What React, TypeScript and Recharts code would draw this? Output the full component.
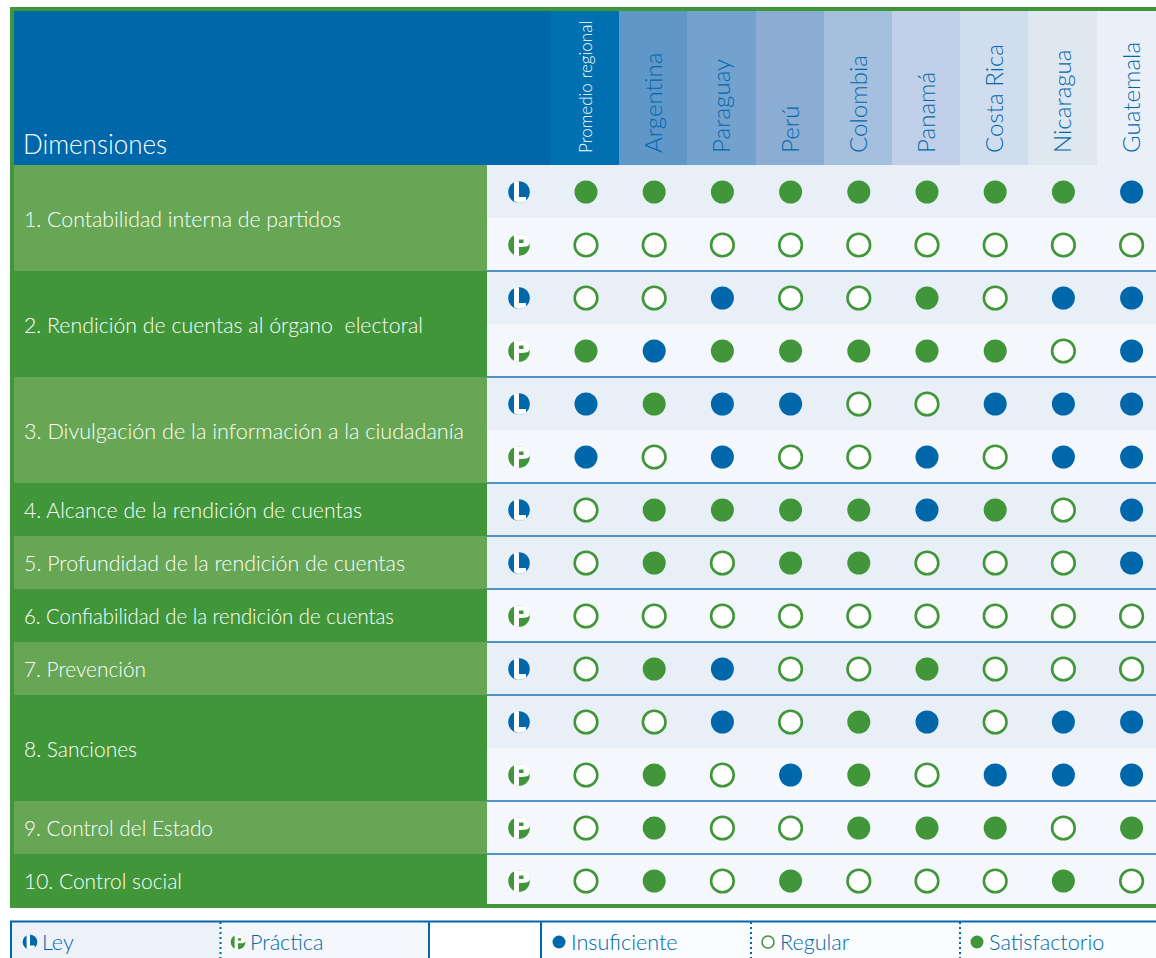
import { ScatterChart, Scatter, XAxis, YAxis, ReferenceArea, ReferenceLine } from "recharts";

const WIDTH = 1156;
const HEIGHT = 958;

const BLUE = "#0068aa";
const GREEN = "#41963a";
const LIGHT_GREEN = "#66a655";
const LAW_BG = "#e8eff7";
const PRACTICE_BG = "#f4f7fb";
const FONT = "Lato, 'Noto Sans', sans-serif";

const countries = ["Promedio regional", "Argentina", "Paraguay", "Perú", "Colombia", "Panamá", "Costa Rica", "Nicaragua", "Guatemala"];
const headerColors = ["#0070b0", "#5f97c9", "#74a2ce", "#8badd4", "#a5bfdf", "#bfd0e8", "#d0ddef", "#dfe7f1", "#ebf0f8"];

const dimensions = [
  "1. Contabilidad interna de partidos",
  "2. Rendición de cuentas al órgano  electoral",
  "3. Divulgación de la información a la ciudadanía",
  "4. Alcance de la rendición de cuentas",
  "5. Profundidad de la rendición de cuentas",
  "6. Confiabilidad de la rendición de cuentas",
  "7. Prevención",
  "8. Sanciones",
  "9. Control del Estado",
  "10. Control social",
];
// label widths as measured on the picture, the original face is narrower than Lato
const labelWidths = [317, 399, 440, 338, 381, 370, 122, 113, 189, 158];
// which dimension each table row belongs to, and whether it is Ley or Práctica
const rowDimension = [0, 0, 1, 1, 2, 2, 3, 4, 5, 6, 7, 7, 8, 9];
const rowKind = ["L", "P", "L", "P", "L", "P", "L", "L", "P", "L", "L", "P", "P", "P"];

// I = insuficiente, R = regular, S = satisfactorio; one entry per row
const promedio = ["S", "R", "R", "S", "I", "I", "R", "R", "R", "R", "R", "R", "R", "R"];
const argentina = ["S", "R", "R", "I", "S", "R", "S", "S", "R", "S", "R", "S", "S", "S"];
const paraguay = ["S", "R", "I", "S", "I", "I", "S", "R", "R", "I", "I", "R", "R", "R"];
const peru = ["S", "R", "R", "S", "I", "R", "S", "S", "R", "R", "R", "I", "R", "S"];
const colombia = ["S", "R", "R", "S", "R", "R", "S", "S", "R", "R", "S", "S", "S", "R"];
const panama = ["S", "R", "S", "S", "R", "I", "I", "R", "R", "S", "I", "R", "S", "R"];
const costaRica = ["S", "R", "R", "S", "I", "R", "S", "R", "R", "R", "R", "I", "S", "R"];
const nicaragua = ["S", "R", "I", "R", "I", "I", "R", "R", "R", "R", "I", "I", "R", "S"];
const guatemala = ["I", "R", "I", "I", "I", "I", "I", "I", "R", "R", "I", "I", "S", "R"];
const scores = [promedio, argentina, paraguay, peru, colombia, panama, costaRica, nicaragua, guatemala];

const legendKinds = ["Ley", "Práctica"];
const legendScores = ["Insuficiente", "Regular", "Satisfactorio"];

// page pixels to table units (columns are 68.2px apart, rows 53px)
const colAt = (px: number) => (px - 586) / 68.2;
const rowAt = (py: number) => (py - 192) / 53;
const rowEdge = (r: number) => rowAt(165 + 53 * r);
const colEdge = (i: number) => colAt(Math.round(551 + 68.2 * i));

const points = (score: string) =>
  scores.flatMap((col, x) => col.flatMap((s, y) => (s === score ? [{ x, y }] : [])));

const badgeX = colAt(519);
const lawBadges = rowKind.flatMap((k, y) => (k === "L" ? [{ x: badgeX, y }] : []));
const practiceBadges = rowKind.flatMap((k, y) => (k === "P" ? [{ x: badgeX, y }] : []));

const dimensionTicks = dimensions.map((_, d) => {
  const rows = rowDimension.flatMap((v, r) => (v === d ? [r] : []));
  return (rows[0] + rows[rows.length - 1]) / 2;
});
// a rule closes each dimension, except the last one
const ruleRows = dimensions.slice(0, -1).map((_, d) => rowDimension.lastIndexOf(d) + 1);

const legendItems = [
  { x: colAt(30), label: legendKinds[0], mark: "L" },
  { x: colAt(238), label: legendKinds[1], mark: "P" },
  { x: colAt(559), label: legendScores[0], mark: "I" },
  { x: colAt(768), label: legendScores[1], mark: "R" },
  { x: colAt(977), label: legendScores[2], mark: "S" },
].map((d) => ({ ...d, y: rowAt(942) }));

function Badge({ cx, cy, kind, scale = 1 }: { cx: number; cy: number; kind: string; scale?: number }) {
  const t = `translate(${cx},${cy}) scale(${scale})`;
  if (kind === "L") {
    return (
      <g transform={t}>
        <circle r={10.8} fill={BLUE} />
        <path d="M-5,-10.8 H0 V5 H7 V9 L2,10.8 H-2 L-5,9 Z" fill="#fff" />
      </g>
    );
  }
  return (
    <g transform={t}>
      <circle r={10.8} fill={GREEN} />
      <path d="M-5,-10.8 H2 C8,-10 10.8,-6 10.8,-2 C10.5,1 8,2 0,2 V10.8 H-5 Z" fill="#fff" />
      <rect x={0} y={-5.5} width={4.5} height={3.5} fill={GREEN} />
    </g>
  );
}

function LegendMark(props: any) {
  const { cx, cy, payload } = props;
  const { mark, label } = payload;
  return (
    <g>
      {mark === "L" || mark === "P" ? <Badge cx={cx} cy={cy} kind={mark} scale={0.68} /> : null}
      {mark === "I" ? <circle cx={cx} cy={cy} r={6.5} fill={BLUE} /> : null}
      {mark === "S" ? <circle cx={cx} cy={cy} r={6.5} fill={GREEN} /> : null}
      {mark === "R" ? <circle cx={cx} cy={cy} r={6} fill="#fff" stroke={GREEN} strokeWidth={1.6} /> : null}
      <text x={cx + 12} y={cy + 8} fontFamily={FONT} fontWeight={300} fontSize={21.6} fill={BLUE}>{label}</text>
    </g>
  );
}

function CountryTick({ x, payload }: any) {
  const i = payload.value;
  const big = i > 0;
  return (
    <text
      transform={`translate(${x + (big ? 8 : 6)},153) rotate(-90)`}
      fontFamily={FONT}
      fontWeight={300}
      fontSize={big ? 24.1 : 17}
      fill={big ? BLUE : "#fff"}
    >
      {countries[i]}
    </text>
  );
}

function DimensionTick({ y, payload }: any) {
  const d = dimensionTicks.indexOf(payload.value);
  return (
    <text
      x={24} y={y + 8} fontFamily={FONT} fontWeight={300} fontSize={22} fill="#fff"
      textLength={labelWidths[d]} lengthAdjust="spacingAndGlyphs" style={{ whiteSpace: "pre" }}
    >
      {dimensions[d]}
    </text>
  );
}

const HeaderTitle = (props: any) => (
  <text
    x={23} y={props.viewBox.y + props.viewBox.height - 11} fontFamily={FONT} fontWeight={300} fontSize={27} fill="#fff"
    textLength={144} lengthAdjust="spacingAndGlyphs"
  >
    Dimensiones
  </text>
);

export default function App() {
  const right = colAt(WIDTH);
  const tableLeft = colAt(10);
  const inner = colAt(14);
  const labelEnd = colAt(487);
  const boxTop = rowAt(922);
  const bottom = rowAt(HEIGHT);
  return (
    <div style={{ position: "absolute", left: 0, top: 0, width: WIDTH, height: HEIGHT, overflow: "hidden", background: "#fff" }}>
      <ScatterChart width={WIDTH} height={HEIGHT} margin={{ top: 0, right: 0, bottom: 0, left: 0 }}>
        {/* axes need 1px or they are not drawn */}
        <XAxis
          type="number" dataKey="x" orientation="top" height={1}
          domain={[colAt(1), right]} allowDataOverflow
          ticks={countries.map((_, i) => i)} interval={0}
          axisLine={false} tickLine={false} tick={CountryTick}
        />
        <YAxis
          type="number" dataKey="y" width={1} reversed
          domain={[rowAt(1), bottom]} allowDataOverflow
          ticks={dimensionTicks} interval={0}
          axisLine={false} tickLine={false} tick={DimensionTick}
        />

        {/* frame and header */}
        <ReferenceArea x1={tableLeft} x2={right} y1={rowAt(7)} y2={rowAt(11)} fill={GREEN} fillOpacity={1} strokeWidth={0} />
        <ReferenceArea x1={tableLeft} x2={inner} y1={rowAt(7)} y2={rowAt(908)} fill={GREEN} fillOpacity={1} strokeWidth={0} />
        <ReferenceArea x1={inner} x2={colEdge(0)} y1={rowAt(11)} y2={rowEdge(0)} fill={BLUE} fillOpacity={1} strokeWidth={0} label={<HeaderTitle />} />
        {headerColors.map((c, i) => (
          <ReferenceArea key={c} x1={colEdge(i)} x2={Math.min(colEdge(i + 1), right)} y1={rowAt(11)} y2={rowEdge(0)} fill={c} fillOpacity={1} strokeWidth={0} />
        ))}

        {/* rows */}
        {rowKind.map((k, r) => (
          <ReferenceArea key={r} x1={labelEnd} x2={right} y1={rowEdge(r)} y2={rowEdge(r + 1)} fill={k === "L" ? LAW_BG : PRACTICE_BG} fillOpacity={1} strokeWidth={0} />
        ))}
        {rowDimension.map((d, r) => (
          <ReferenceArea key={r} x1={d % 2 ? tableLeft : inner} x2={labelEnd} y1={rowEdge(r)} y2={rowEdge(r + 1)} fill={d % 2 ? GREEN : LIGHT_GREEN} fillOpacity={1} strokeWidth={0} />
        ))}
        <ReferenceArea x1={tableLeft} x2={right} y1={rowAt(904)} y2={rowAt(908)} fill={GREEN} fillOpacity={1} strokeWidth={0} />
        {ruleRows.map((r) => (
          <ReferenceLine key={r} segment={[{ x: labelEnd, y: rowEdge(r) }, { x: right, y: rowEdge(r) }]} stroke="#1a73b6" strokeWidth={1.5} />
        ))}

        {/* legend box */}
        <ReferenceArea x1={colAt(12)} x2={colAt(220)} y1={boxTop} y2={bottom} fill="#edf2f9" fillOpacity={1} strokeWidth={0} />
        <ReferenceArea x1={colAt(220)} x2={colAt(429)} y1={boxTop} y2={bottom} fill={PRACTICE_BG} fillOpacity={1} strokeWidth={0} />
        <ReferenceArea x1={colAt(541)} x2={right} y1={boxTop} y2={bottom} fill="#fafcfe" fillOpacity={1} strokeWidth={0} />
        <ReferenceLine segment={[{ x: colAt(10), y: rowAt(921.5) }, { x: right, y: rowAt(921.5) }]} stroke={BLUE} strokeWidth={2} />
        {[11, 429, 541].map((p) => (
          <ReferenceLine key={p} segment={[{ x: colAt(p), y: rowAt(921) }, { x: colAt(p), y: bottom }]} stroke={BLUE} strokeWidth={2} />
        ))}
        {[220.5, 751, 960].map((p) => (
          <ReferenceLine key={p} segment={[{ x: colAt(p), y: boxTop }, { x: colAt(p), y: bottom }]} stroke={BLUE} strokeWidth={2} strokeDasharray="2 3" />
        ))}

        <Scatter name="Ley" data={lawBadges} isAnimationActive={false}
          shape={(p: any) => <Badge cx={p.cx} cy={p.cy} kind="L" />} />
        <Scatter name="Práctica" data={practiceBadges} isAnimationActive={false}
          shape={(p: any) => <Badge cx={p.cx} cy={p.cy} kind="P" />} />
        <Scatter name="Insuficiente" data={points("I")} isAnimationActive={false}
          shape={(p: any) => <circle cx={p.cx} cy={p.cy} r={11.5} fill={BLUE} />} />
        <Scatter name="Regular" data={points("R")} isAnimationActive={false}
          shape={(p: any) => <circle cx={p.cx} cy={p.cy} r={11.3} fill="#fff" stroke={GREEN} strokeWidth={2.6} />} />
        <Scatter name="Satisfactorio" data={points("S")} isAnimationActive={false}
          shape={(p: any) => <circle cx={p.cx} cy={p.cy} r={11.5} fill={GREEN} />} />
        <Scatter name="Leyenda" data={legendItems} isAnimationActive={false} shape={LegendMark} />
      </ScatterChart>
    </div>
  );
}
